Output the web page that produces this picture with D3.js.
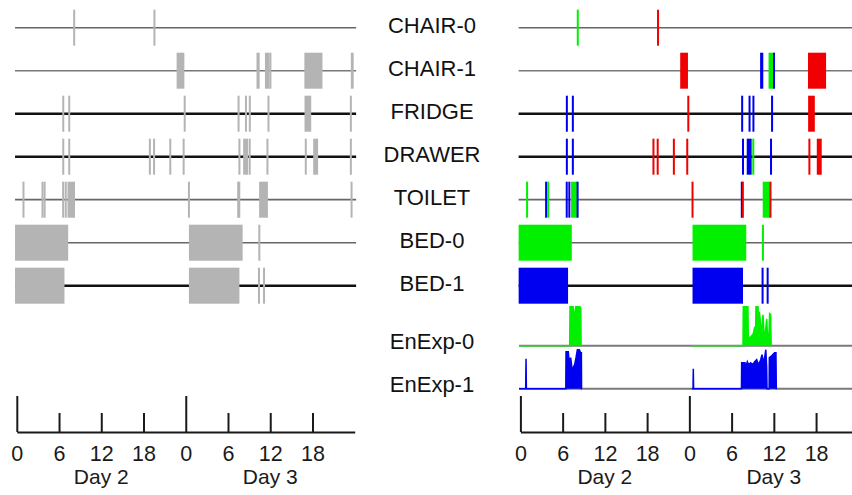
<!DOCTYPE html>
<html>
<head>
<meta charset="utf-8">
<script src="https://cdn.jsdelivr.net/npm/d3@7"></script>
<style>
  html, body { margin: 0; padding: 0; background: #fff; }
  svg { display: block; font-family: "Liberation Sans", Arial, sans-serif; }
</style>
</head>
<body>
<svg id="chart" width="852" height="495"></svg>
<script>
// Sensor rows (event rasters) and energy-expenditure rows, top to bottom
const sensorRows = ["CHAIR-0", "CHAIR-1", "FRIDGE", "DRAWER", "TOILET", "BED-0", "BED-1"];
const energyRows = ["EnExp-0", "EnExp-1"];

// Sensor events: [start hour, end hour, who]; hours run from midnight of Day 2.
// who: "0" = resident 0, "1" = resident 1, "v" = unattributed / visitor
const chair0 = [[8.15, 8.15, "0"], [19.55, 19.55, "v"]];
const chair1 = [[22.7, 23.8, "v"], [34.05, 34.5, "1"], [35.25, 35.9, "0"], [35.9, 36.15, "1"],
                [40.85, 43.42, "v"], [47.45, 47.85, "v"]];
const fridge = [[6.6, 6.6, "1"], [7.45, 7.45, "1"], [23.85, 23.85, "v"], [31.5, 31.5, "1"],
                [32.55, 32.55, "1"], [33.1, 33.1, "1"], [35.75, 35.75, "1"], [40.87, 41.82, "v"],
                [47.45, 47.45, "v"]];
const drawer = [[6.6, 6.6, "1"], [7.45, 7.45, "1"], [18.9, 18.9, "v"], [19.5, 19.5, "v"],
                [21.8, 21.8, "v"], [23.7, 23.7, "v"], [31.62, 31.62, "1"], [32.15, 32.85, "1"],
                [33.08, 33.08, "0"], [35.6, 35.6, "1"], [41.05, 41.05, "v"], [42.1, 42.8, "v"],
                [47.45, 47.45, "v"]];
const toilet = [[0.95, 0.95, "0"], [3.65, 3.65, "1"], [3.85, 4.05, "0"], [6.58, 6.58, "1"],
                [6.95, 6.95, "1"], [7.2, 8.05, "0"], [8.05, 8.2, "1"], [24.45, 24.45, "v"],
                [31.45, 31.45, "1"], [31.6, 31.6, "v"], [34.42, 35.45, "0"], [35.45, 35.6, "v"],
                [47.55, 47.55, "v"]];
const bed0 = [[-0.25, 7.3, "0"], [24.45, 32.08, "0"], [34.45, 34.45, "0"]];
const bed1 = [[-0.25, 6.77, "1"], [24.45, 31.62, "1"], [34.4, 34.4, "1"], [35.12, 35.12, "1"]];

// Energy expenditure samples: [hour, value], one array per recorded stretch
const enExp0Day2 = [[-0.2, 0], [7.0, 0], [7.05, 3.9], [7.5, 3.9], [7.62, 3.2], [7.68, 2.3],
                    [7.8, 3.3], [7.86, 3.9], [8.45, 3.9], [8.58, 3.7], [8.62, 0], [8.7, 0]];
const enExp0Day3 = [[24.35, 0], [31.62, 0], [31.66, 3.9], [32.32, 3.9], [32.37, 0.9], [32.6, 0.8],
                    [32.85, 1.0], [33.08, 1.2], [33.3, 1.9], [33.42, 1.5], [33.46, 3.9], [33.75, 3.9],
                    [33.85, 2.6], [33.95, 3.4], [34.13, 2.1], [34.32, 1.6], [34.46, 3.1], [34.6, 1.4],
                    [34.79, 1.2], [34.98, 2.7], [35.12, 0.9], [35.3, 0.9], [35.4, 3.2], [35.55, 3.1],
                    [35.62, 0], [35.7, 0]];
const enExp1Day2 = [[-0.2, 0], [0.75, 0], [0.8, 3.0], [0.85, 0], [6.45, 0], [6.48, 3.7], [6.8, 3.7],
                    [6.95, 2.6], [7.14, 3.1], [7.3, 2.2], [7.5, 1.4], [7.55, 2.2], [7.71, 2.4],
                    [7.9, 3.1], [8.09, 3.9], [8.37, 3.9], [8.56, 3.6], [8.66, 3.6], [8.69, 0], [8.72, 0]];
const enExp1Day3 = [[24.35, 0], [24.52, 0], [24.56, 2.0], [24.6, 0], [31.4, 0], [31.43, 2.6],
                    [31.9, 2.6], [32.04, 2.2], [32.23, 2.7], [32.42, 2.4], [32.71, 2.6], [32.99, 2.4],
                    [33.28, 2.7], [33.56, 2.9], [33.84, 2.4], [34.13, 2.9], [34.32, 3.4], [34.51, 2.7],
                    [34.69, 3.1], [34.86, 3.9], [34.98, 2.2], [35.03, 0], [35.33, 0], [35.36, 3.1],
                    [35.55, 3.2], [35.83, 3.4], [36.11, 3.6], [36.3, 3.6], [36.35, 0], [36.4, 0]];

// Time axis
const hourTicks = [0, 6, 12, 18, 24, 30, 36, 42];
const dayStarts = [0, 24];
const dayLabels = ["Day 2", "Day 3"];
const dayCenters = [12, 36];

// ---- assemble lookups for drawing ----
const eventsByRow = new Map([
  ["CHAIR-0", chair0], ["CHAIR-1", chair1], ["FRIDGE", fridge], ["DRAWER", drawer],
  ["TOILET", toilet], ["BED-0", bed0], ["BED-1", bed1]
]);
const energyByRow = new Map([
  ["EnExp-0", { who: "0", stretches: [enExp0Day2, enExp0Day3] }],
  ["EnExp-1", { who: "1", stretches: [enExp1Day2, enExp1Day3] }]
]);

// ---- layout & styling ----
const svg = d3.select("#chart");
const pxPerHour = 7.04;
const markHalf = 18;
const whoColor = d3.scaleOrdinal().domain(["0", "1", "v"]).range(["#00f000", "#0000f0", "#f00000"]);
const neutralMark = "#b4b4b4";
const rowLine = {
  "CHAIR-0": ["#666", 1.5], "CHAIR-1": ["#777", 1.6], "FRIDGE": ["#111", 2.4],
  "DRAWER": ["#111", 2.4], "TOILET": ["#666", 1.8], "BED-0": ["#666", 1.5], "BED-1": ["#111", 2.4],
  "EnExp-0": ["#7a7a7a", 2], "EnExp-1": ["#7a7a7a", 2]
};

const y = d3.scalePoint()
  .domain([...sensorRows, ...energyRows])
  .range([27.7, 371.7]);
const energyBase = row => y(row) + 17;
const ev = d3.scaleLinear().domain([0, 4]).range([0, -40]);

const panels = [
  { x0: 16.8, colored: false },
  { x0: 520.4, colored: true }
];

panels.forEach(p => {
  const x = d3.scaleLinear().domain([0, 48]).range([p.x0, p.x0 + 48 * pxPerHour]);
  const g = svg.append("g");

  // row baselines
  sensorRows.forEach(row => {
    g.append("line")
      .attr("x1", x(-0.25)).attr("x2", x(48.2))
      .attr("y1", y(row)).attr("y2", y(row))
      .attr("stroke", rowLine[row][0]).attr("stroke-width", rowLine[row][1]);
  });

  // event marks
  sensorRows.forEach(row => {
    g.append("g").selectAll("rect")
      .data(eventsByRow.get(row))
      .join("rect")
      .attr("x", d => {
        const w = x(d[1]) - x(d[0]);
        return w < 2 ? (x(d[0]) + x(d[1])) / 2 - 1 : x(d[0]);
      })
      .attr("width", d => Math.max(2, x(d[1]) - x(d[0])))
      .attr("y", y(row) - markHalf)
      .attr("height", markHalf * 2)
      .attr("fill", d => p.colored ? whoColor(d[2]) : neutralMark);
  });

  // energy expenditure traces (only in the coloured panel)
  if (p.colored) {
    energyRows.forEach(row => {
      const base = energyBase(row);
      const info = energyByRow.get(row);
      const col = whoColor(info.who);
      g.append("line")
        .attr("x1", x(-0.2)).attr("x2", x(48.2))
        .attr("y1", base).attr("y2", base)
        .attr("stroke", rowLine[row][0]).attr("stroke-width", rowLine[row][1]);
      const area = d3.area().x(d => x(d[0])).y0(base).y1(d => base + ev(d[1]));
      const line = d3.line().x(d => x(d[0])).y(d => base + ev(d[1]));
      info.stretches.forEach(s => {
        g.append("path").attr("d", area(s)).attr("fill", col);
        g.append("path").attr("d", line(s)).attr("fill", "none")
          .attr("stroke", col).attr("stroke-width", 1.5);
      });
    });
  }

  // time axis: tall ticks at day starts, short ticks every 6 h
  const axisY = 432;
  const ax = g.append("g").attr("transform", `translate(0,${axisY})`).attr("color", "#1a1a1a");
  ax.append("g").call(d3.axisTop(x).tickValues(dayStarts).tickSize(36).tickSizeOuter(0).tickFormat(""))
    .call(s => s.selectAll("line, path").attr("stroke-width", 2));
  ax.append("g").call(d3.axisTop(x).tickValues(hourTicks.filter(h => h % 24 !== 0)).tickSize(19).tickFormat(""))
    .call(s => s.select(".domain").remove())
    .call(s => s.selectAll("line").attr("stroke-width", 2));
  ax.append("g").call(d3.axisBottom(x).tickValues(hourTicks).tickSize(0).tickFormat(d => d % 24))
    .attr("font-size", 21.5).attr("font-family", "Liberation Sans, Arial, sans-serif")
    .call(s => s.select(".domain").remove())
    .call(s => s.selectAll("text")
      .attr("y", 28.8).attr("dy", null)
      .attr("fill", "#1a1a1a"));

  g.append("g").selectAll("text")
    .data(dayLabels)
    .join("text")
    .attr("x", (d, i) => x(dayCenters[i]))
    .attr("y", 483.5)
    .attr("text-anchor", "middle")
    .attr("font-size", 21)
    .attr("fill", "#1a1a1a")
    .text(d => d);
});

// row names between the panels
svg.append("g").selectAll("text")
  .data([...sensorRows, ...energyRows])
  .join("text")
  .attr("x", 432)
  .attr("y", d => energyRows.includes(d) ? energyBase(d) + 3.3 : y(d) + 5.6)
  .attr("text-anchor", "middle")
  .attr("font-size", 22)
  .attr("fill", "#111")
  .text(d => d);
</script>
</body>
</html>
